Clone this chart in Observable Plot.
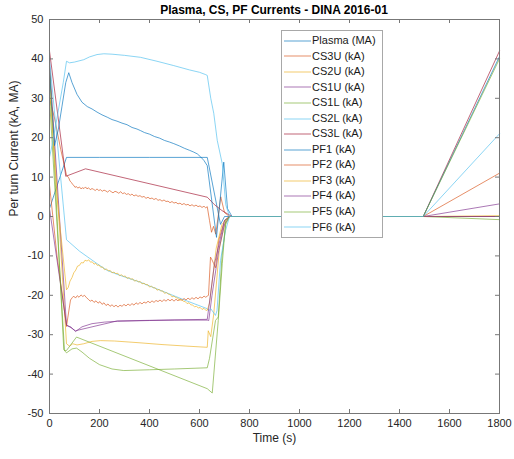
<!DOCTYPE html>
<html><head><meta charset="utf-8">
<script src="https://cdn.jsdelivr.net/npm/d3@7"></script>
<script src="https://cdn.jsdelivr.net/npm/@observablehq/plot@0.6"></script>
<style>
body{margin:0;background:#fff;font-family:"Liberation Sans",Arial,Helvetica,sans-serif;}
#wrap{position:relative;width:514px;height:459px;}
#title{position:absolute;left:49px;top:3px;width:450px;text-align:center;font-weight:bold;font-size:12px;line-height:14px;color:#000;white-space:nowrap;}
#legend{position:absolute;left:281px;top:30px;width:100px;height:204px;border:1px solid #a8a8a8;background:#fff;padding-top:2px;box-sizing:content-box;}
.row{height:15.56px;line-height:15.56px;font-size:11px;color:#1a1a1a;display:flex;align-items:center;white-space:nowrap;}
.row svg{margin-left:2px;margin-right:1px;flex:none;}
</style>
</head><body>
<div id="wrap"><div id="chart"></div><div id="title"></div><div id="legend"></div></div>
<script>
const titleText = "Plasma, CS, PF Currents - DINA 2016-01";
const xLabel = "Time (s)";
const yLabel = "Per turn Current (kA, MA)";
const xTicks = [0,200,400,600,800,1000,1200,1400,1600,1800];
const yTicks = [-50,-40,-30,-20,-10,0,10,20,30,40,50];

const seriesNames = ["Plasma (MA)","CS3U (kA)","CS2U (kA)","CS1U (kA)","CS1L (kA)","CS2L (kA)","CS3L (kA)","PF1 (kA)","PF2 (kA)","PF3 (kA)","PF4 (kA)","PF5 (kA)","PF6 (kA)"];
const seriesColors = ["#0072BD","#D95319","#EDB120","#7E2F8E","#77AC30","#4DBEEE","#A2142F","#0072BD","#D95319","#EDB120","#7E2F8E","#77AC30","#4DBEEE"];

// [time (s), current]
const plasma = [[0,2],[68,15],[200,15],[400,15],[631,15],[684,-2],[700,0],[720,0],[1495,0],[1800,0]];
const cs3u = [[0,30],[20,25],[45,17],[68,10.5],[77,9.8],[82,9.0],[88,8.6],[93,8.1],[97,7.9],[102,7.4],[108,7.6],[113,7.2],[120,7.5],[126,7.0],[131,7.3],[138,7.1],[144,7.5],[150,7.0],[156,7.3],[163,6.8],[170,7.1],[176,6.9],[183,6.6],[190,7.0],[197,6.6],[204,6.8],[211,6.4],[218,6.7],[225,6.5],[232,6.2],[240,6.6],[247,6.3],[254,6.0],[262,6.4],[270,6.2],[277,5.9],[285,6.3],[292,5.8],[300,6.0],[308,5.6],[315,5.8],[323,5.4],[330,5.7],[338,5.2],[346,5.5],[354,5.1],[362,5.3],[370,4.9],[378,5.1],[386,4.6],[394,4.9],[402,4.5],[410,4.7],[418,4.3],[426,4.6],[434,4.1],[442,4.3],[450,3.9],[458,4.2],[466,3.8],[474,3.9],[482,3.5],[490,3.8],[498,3.4],[506,3.6],[514,3.2],[522,3.4],[530,3.0],[538,3.3],[546,2.9],[554,3.1],[562,2.7],[570,3.0],[578,2.6],[586,2.9],[594,2.5],[602,2.7],[610,2.3],[618,2.6],[625,2.2],[631,2.5],[640,-1],[648,-4],[656,-2.5],[665,-4.5],[685,5],[700,1],[720,0],[1495,0],[1800,11]];
const cs2u = [[0,38],[68,-32.3],[80,-32.9],[93,-32.3],[110,-32.6],[137,-32.3],[170,-31.7],[204,-31.5],[260,-31.6],[350,-32],[450,-32.5],[550,-32.9],[631,-33.2],[635,-29],[645,-30.5],[657,-24.7],[680,-8],[700,-2],[720,0],[1495,0],[1800,0]];
const cs1u = [[0,39],[68,-27.7],[85,-28],[104,-29.2],[130,-28],[170,-27.2],[220,-26.8],[271,-26.6],[400,-26.4],[500,-26.3],[631,-26.3],[637,-26.4],[650,-20],[677,-8.6],[700,-2],[720,0],[1495,0],[1800,3.2]];
const cs1l = [[0,38],[57,-33.8],[68,-34.6],[90,-33.6],[108,-33.4],[130,-34.4],[160,-36],[200,-37.6],[250,-38.7],[297,-39.1],[400,-38.9],[500,-38.7],[631,-38.4],[640,-36],[664,-26.4],[675,-25.5],[690,-10],[705,-2],[720,0],[1495,0],[1800,-0.8]];
const cs2l = [[0,40],[68,-5.9],[120,-8.8],[191,-12],[231,-13.7],[280,-14.9],[364,-16.7],[450,-18.9],[540,-21.2],[631,-23.4],[637,-23.9],[645,-23.4],[664,-25.1],[670,-23.9],[684,-11.2],[704,-3.6],[720,0],[1495,0],[1800,0]];
const cs3l = [[0,42],[65,10.2],[144,12.1],[631,4.9],[660,3],[690,1.5],[711,0.7],[730,0],[1495,0],[1800,42]];
const pf1 = [[0,37],[8,28],[20,18],[35,22],[50,28],[65,34],[77,36.5],[90,34],[110,31],[130,29],[151,27.9],[170,27.3],[190,26.5],[210,25.8],[231,25.2],[250,24.6],[270,24.2],[290,23.7],[310,23.3],[330,22.6],[350,22.2],[364,21.8],[380,21.3],[400,20.9],[420,20.3],[440,19.9],[460,19.3],[480,18.9],[497,18.5],[520,17.9],[540,17.3],[560,16.8],[575,16.4],[591,15.9],[605,15.1],[618,14.2],[631,12.9],[668,-5.3],[697,13.8],[712,2],[730,0],[1495,0],[1800,40.6]];
const pf2 = [[0,8],[30,-10],[68,-27.9],[76,-24.5],[84,-21.2],[91,-20.6],[97,-20.2],[104,-20.7],[111,-20.1],[118,-20.5],[126,-19.9],[133,-20.3],[140,-20.0],[148,-20.6],[155,-21.0],[163,-21.5],[170,-21.2],[178,-21.8],[186,-21.4],[194,-22.0],[202,-21.6],[210,-22.3],[218,-21.9],[226,-22.6],[234,-22.2],[242,-22.8],[250,-22.4],[258,-22.9],[266,-22.5],[274,-23.0],[282,-22.5],[290,-22.8],[298,-22.3],[306,-22.7],[314,-22.2],[322,-22.6],[330,-22.1],[338,-22.5],[346,-21.9],[354,-22.3],[362,-21.8],[370,-22.2],[378,-21.7],[386,-22.0],[394,-21.5],[402,-21.9],[410,-21.4],[418,-21.8],[426,-21.3],[434,-21.6],[442,-21.2],[450,-21.6],[458,-21.1],[466,-21.5],[474,-21.0],[482,-21.4],[490,-21.0],[498,-21.5],[506,-21.0],[514,-21.4],[522,-20.9],[530,-21.3],[538,-20.8],[546,-21.2],[554,-20.7],[562,-21.1],[570,-20.6],[578,-21.0],[586,-20.5],[594,-20.9],[602,-20.4],[610,-20.7],[618,-20.2],[625,-20.5],[631,-20.2],[636,-20],[644,-10.3],[650,-11],[657,-12],[664,-13],[677,-6],[700,-1],[720,0],[1495,0],[1800,0]];
const pf3 = [[0,33],[30,5],[68,-18.6],[75,-18],[82,-16.4],[90,-15.5],[97,-14.3],[105,-13.6],[112,-12.6],[120,-12.4],[127,-11.7],[135,-11.8],[142,-11.1],[150,-11.3],[157,-11.0],[164,-11.6],[171,-11.5],[178,-12.1],[185,-11.9],[191,-12.4],[198,-12.3],[205,-12.9],[212,-12.8],[220,-13.5],[228,-13.3],[235,-13.8],[243,-13.7],[250,-14.3],[258,-14.1],[265,-14.5],[273,-14.4],[280,-15.0],[288,-14.8],[295,-15.2],[303,-15.1],[310,-15.7],[318,-15.5],[325,-15.9],[333,-15.8],[340,-16.4],[348,-16.2],[355,-16.6],[363,-16.5],[370,-17.1],[378,-16.9],[385,-17.3],[393,-17.3],[400,-17.9],[408,-17.7],[415,-18.1],[423,-18.1],[430,-18.7],[438,-18.5],[445,-18.9],[453,-18.9],[460,-19.5],[468,-19.3],[475,-19.7],[483,-19.8],[490,-20.4],[498,-20.2],[505,-20.6],[513,-20.7],[520,-21.3],[528,-21.1],[535,-21.5],[543,-21.6],[550,-22.1],[558,-21.9],[565,-22.4],[573,-22.5],[580,-22.9],[588,-22.8],[595,-23.2],[603,-23.1],[610,-23.6],[618,-23.3],[625,-23.8],[631,-23.8],[640,-22],[667,-8],[690,-2],[720,0],[1495,0],[1800,0.2]];
const pf4 = [[0,2],[68,-27.5],[104,-29],[271,-26.5],[631,-26.1],[660,-12],[700,-1],[720,0],[1495,0],[1800,0]];
const pf5 = [[0,30],[60,-34],[68,-34],[108,-30.6],[631,-43.7],[651,-44.8],[675,-26.4],[691,-12],[705,-1],[720,0],[1495,0],[1800,40]];
const pf6 = [[0,15],[10,18],[30,25],[55,34],[68,39.4],[80,39],[100,39.2],[137,39.8],[160,40.5],[190,41.1],[217,41.3],[250,41.2],[300,40.9],[364,40.4],[430,39.4],[497,38.3],[560,37.2],[600,36.6],[625,36],[631,35.8],[645,30],[657,26.2],[671,19.3],[691,13.4],[705,3],[720,0],[1495,0],[1800,21]];

const seriesData = [plasma,cs3u,cs2u,cs1u,cs1l,cs2l,cs3l,pf1,pf2,pf3,pf4,pf5,pf6];

const lineMarks = seriesData.map((s,i) =>
  Plot.line(s.map(([t,v]) => ({t, v})), {x:"t", y:"v", stroke: seriesColors[i], strokeWidth: 1, strokeOpacity: 0.65})
);

const chart = Plot.plot({
  width: 514, height: 459,
  marginLeft: 49, marginRight: 15, marginTop: 19, marginBottom: 46,
  style: {fontFamily: '"Liberation Sans", Arial, sans-serif', fontSize: "11px", color: "#262626", background: "#fff"},
  x: {domain: [0,1800], ticks: xTicks, tickSize: 0, tickPadding: 6, label: null, tickFormat: d => String(d)},
  y: {domain: [-50,50], ticks: yTicks, tickSize: 0, tickPadding: 6, label: null, tickFormat: d => String(d)},
  marks: [
    ...lineMarks,
    Plot.ruleX(xTicks, {insetTop: 390, stroke: "#777"}),
    Plot.ruleX(xTicks, {insetBottom: 390, stroke: "#777"}),
    Plot.ruleY(yTicks, {insetRight: 446, stroke: "#777"}),
    Plot.ruleY(yTicks, {insetLeft: 446, stroke: "#777"}),
    Plot.frame({stroke: "#777"}),
    Plot.text([xLabel], {frameAnchor: "bottom", dy: 28, fontSize: 12, fill: "#262626"}),
    Plot.text([yLabel], {frameAnchor: "left", dx: -35, rotate: -90, fontSize: 12, fill: "#262626"})
  ]
});
document.getElementById("chart").appendChild(chart);
document.getElementById("title").textContent = titleText;

const leg = document.getElementById("legend");
seriesNames.forEach((n,i) => {
  const row = document.createElement("div");
  row.className = "row";
  row.innerHTML = `<svg width="27" height="10"><line x1="0" x2="27" y1="5" y2="5" stroke="${seriesColors[i]}" stroke-opacity="0.65" stroke-width="1"/></svg><span></span>`;
  row.querySelector("span").textContent = n;
  leg.appendChild(row);
});
</script>
</body></html>
